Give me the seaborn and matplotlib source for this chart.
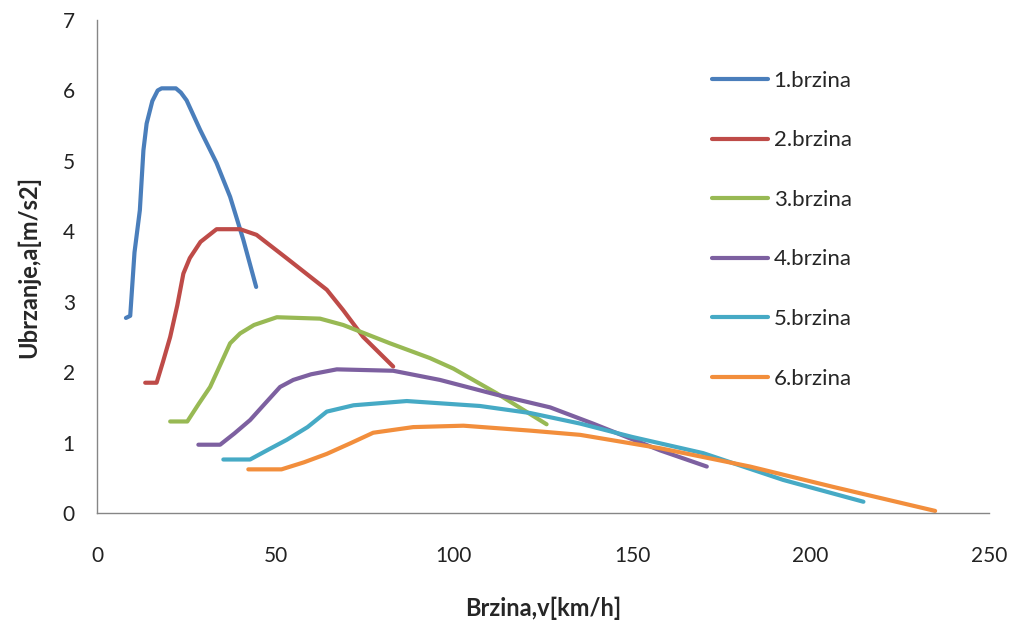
import matplotlib
matplotlib.use("Agg")
import matplotlib.pyplot as plt
import seaborn as sns
import pandas as pd

# --- data (speed km/h, acceleration m/s2) per gear ---
v1 = [8.1, 9.3, 10.5, 12.0, 13.0, 13.9, 15.5, 17.0, 18.1, 22.1, 23.5, 25.1, 28.9, 33.5, 37.3, 41.0, 44.6]
a1 = [2.77, 2.80, 3.7, 4.3, 5.15, 5.53, 5.85, 6.0, 6.03, 6.03, 5.97, 5.86, 5.44, 4.97, 4.49, 3.88, 3.21]

v2 = [13.5, 16.7, 18.5, 20.5, 22.5, 24.2, 26.0, 29.0, 33.5, 40.1, 44.7, 53.1, 64.4, 69.0, 74.6, 83.0]
a2 = [1.85, 1.85, 2.15, 2.5, 2.95, 3.4, 3.62, 3.85, 4.03, 4.03, 3.95, 3.62, 3.17, 2.88, 2.50, 2.08]

v3 = [20.5, 25.3, 28.5, 31.7, 34.5, 37.3, 40.1, 44.0, 50.4, 62.5, 69.0, 82.1, 93.3, 99.9, 112.0, 126.0]
a3 = [1.30, 1.30, 1.55, 1.79, 2.1, 2.41, 2.55, 2.67, 2.78, 2.76, 2.67, 2.41, 2.20, 2.05, 1.70, 1.26]

v4 = [28.4, 34.5, 38.5, 42.9, 47.0, 51.3, 55.0, 60.0, 67.2, 83.0, 96.1, 112.0, 127.0, 139.0, 157.8, 170.9]
a4 = [0.97, 0.97, 1.13, 1.32, 1.55, 1.79, 1.89, 1.97, 2.04, 2.02, 1.89, 1.68, 1.50, 1.27, 0.89, 0.66]

v5 = [35.4, 42.9, 48.0, 53.2, 59.0, 64.4, 71.9, 86.8, 107.3, 121.4, 135.4, 150.0, 169.9, 192.3, 214.8]
a5 = [0.76, 0.76, 0.90, 1.04, 1.22, 1.44, 1.53, 1.59, 1.52, 1.42, 1.27, 1.08, 0.85, 0.47, 0.16]

v6 = [42.4, 51.7, 58.0, 64.4, 71.0, 77.4, 88.6, 102.7, 121.4, 135.4, 157.8, 183.0, 206.4, 234.9]
a6 = [0.62, 0.62, 0.72, 0.84, 0.99, 1.14, 1.22, 1.24, 1.17, 1.11, 0.92, 0.66, 0.37, 0.03]

labels = ["1.brzina", "2.brzina", "3.brzina", "4.brzina", "5.brzina", "6.brzina"]
colors = ["#4A7EBB", "#BE4B48", "#98B954", "#7D60A0", "#46AAC5", "#F28E3C"]

frames = []
for lab, v, a in zip(labels, [v1, v2, v3, v4, v5, v6], [a1, a2, a3, a4, a5, a6]):
    frames.append(pd.DataFrame({"v": v, "a": a, "gear": lab}))
df = pd.concat(frames, ignore_index=True)

sns.set_theme(style="white")
plt.rcParams["font.family"] = ["Lato", "DejaVu Sans"]

fig = plt.figure(figsize=(10.15, 6.22), dpi=100)
ax = fig.add_axes([0.0956, 0.1752, 0.8788, 0.7926])

sns.lineplot(data=df, x="v", y="a", hue="gear", hue_order=labels, palette=colors,
             sort=False, estimator=None, units="gear", linewidth=3.0, ax=ax,
             solid_capstyle="round", solid_joinstyle="round")

ax.set_xlim(0, 250)
ax.set_ylim(0, 7)
ax.set_xticks([0, 50, 100, 150, 200, 250])
ax.set_yticks(range(0, 8))
ax.tick_params(axis="both", length=0, labelsize=15, colors="#222222")
ax.tick_params(axis="x", pad=24)
ax.tick_params(axis="y", pad=16)
for s in ["top", "right"]:
    ax.spines[s].set_visible(False)
for s in ["left", "bottom"]:
    ax.spines[s].set_color("#868686")
    ax.spines[s].set_linewidth(1.0)

ax.set_xlabel("Brzina,v[km/h]", fontsize=17, fontweight="bold", labelpad=22)
ax.set_ylabel("Ubrzanje,a[m/s2]", fontsize=17, fontweight="bold", labelpad=16)

leg = ax.legend(loc="upper left", bbox_to_anchor=(0.68, 0.915), frameon=False,
                fontsize=16, handlelength=2.5, handletextpad=0.25,
                labelspacing=1.78, borderaxespad=0)
for line in leg.get_lines():
    line.set_linewidth(3.0)
    line.set_solid_capstyle("round")

fig.savefig("out.png", dpi=100)
